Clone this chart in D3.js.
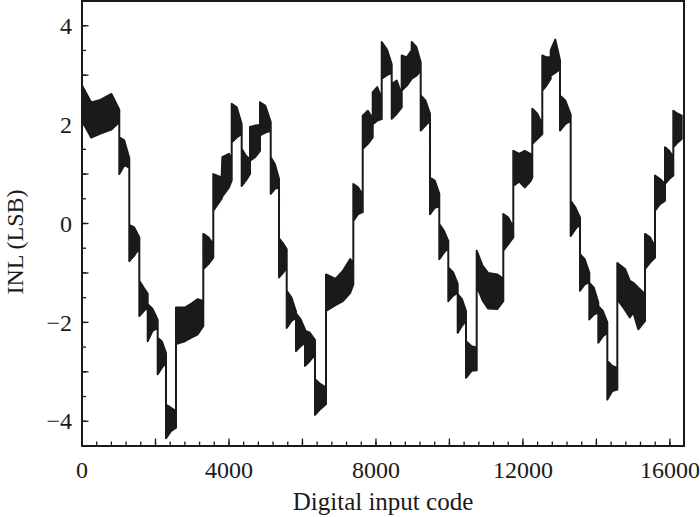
<!DOCTYPE html>
<html><head><meta charset="utf-8">
<script src="https://cdn.jsdelivr.net/npm/d3@7"></script>
<style>
body{margin:0;background:#fff}
svg{display:block}
text{font-family:"Liberation Serif","Times New Roman",serif;fill:#1a1a1a}
</style>
</head><body>
<svg id="chart" width="700" height="517"></svg>
<script>
// INL envelope: [code, lower, upper] (LSB)
const inlPoints = [
 [0,2.08,2.79],[250,1.74,2.45],[500,1.82,2.50],[800,1.90,2.62],[1015,2.05,2.30],
 [1015,1.00,1.74],[1150,1.18,1.68],[1287,1.13,1.32],
 [1287,-0.76,-0.03],[1420,-0.65,-0.08],[1560,-0.49,-0.28],
 [1560,-1.87,-1.16],[1680,-1.77,-1.30],[1788,-1.70,-1.42],
 [1788,-2.38,-1.63],[1920,-2.17,-1.73],[2060,-2.11,-1.95],
 [2060,-3.05,-2.31],[2170,-2.92,-2.38],[2286,-2.80,-2.62],
 [2286,-4.34,-3.66],[2420,-4.20,-3.73],[2558,-4.13,-3.80],
 [2558,-2.44,-1.70],[2800,-2.38,-1.70],[3000,-2.30,-1.61],[3150,-2.24,-1.53],[3301,-2.07,-1.57],
 [3301,-0.92,-0.21],[3440,-0.82,-0.28],[3573,-0.69,-0.42],
 [3573,0.26,1.00],[3800,0.50,0.93],[3820,0.55,1.34],[4000,0.73,1.41],[4074,0.87,1.27],
 [4074,1.64,2.42],[4210,1.74,2.35],[4346,1.81,2.01],
 [4346,0.76,1.51],[4460,0.87,1.37],[4572,1.00,1.30],
 [4572,1.27,1.95],[4710,1.34,1.98],[4844,1.47,1.99],
 [4844,1.78,2.45],[4990,1.84,2.38],[5136,1.88,2.05],
 [5136,0.60,1.34],[5250,0.70,1.20],[5362,0.73,0.90],
 [5362,-1.09,-0.30],[5470,-1.00,-0.40],[5571,-0.89,-0.52],
 [5571,-2.11,-1.36],[5700,-1.97,-1.50],[5824,-1.91,-1.78],
 [5824,-2.58,-1.82],[5950,-2.48,-1.94],[6069,-2.41,-2.14],
 [6069,-2.88,-2.17],[6200,-2.78,-2.21],[6341,-2.65,-2.36],
 [6341,-3.87,-3.15],[6490,-3.75,-3.25],[6641,-3.65,-3.32],
 [6641,-1.77,-1.03],[6900,-1.65,-1.12],[7100,-1.57,-0.96],[7300,-1.40,-0.72],[7384,-1.23,-0.82],
 [7384,0.05,0.80],[7510,0.19,0.73],[7640,0.23,0.58],
 [7640,1.51,2.18],[7780,1.61,2.28],[7912,1.74,2.12],
 [7912,2.01,2.65],[8035,2.08,2.76],[8157,2.11,2.52],
 [8157,2.93,3.67],[8300,3.00,3.52],[8429,3.05,3.22],
 [8429,2.12,2.82],[8565,2.22,2.89],[8701,2.35,2.60],
 [8701,2.69,3.40],[8840,2.79,3.36],[8973,2.93,3.50],
 [8973,2.93,3.67],[9100,2.99,3.57],[9218,3.09,3.26],
 [9218,1.88,2.59],[9345,1.98,2.49],[9471,2.08,2.22],
 [9471,0.19,0.93],[9600,0.32,0.87],[9724,0.35,0.60],
 [9724,-0.72,-0.01],[9850,-0.59,-0.15],[9969,-0.49,-0.35],
 [9969,-1.57,-0.89],[10100,-1.46,-0.99],[10225,-1.40,-1.22],
 [10225,-2.21,-1.43],[10340,-2.07,-1.53],[10451,-1.97,-1.77],
 [10451,-3.12,-2.38],[10600,-2.98,-2.48],[10742,-2.97,-2.51],
 [10742,-1.26,-0.55],[10900,-1.55,-0.85],[11050,-1.72,-1.00],[11300,-1.73,-1.03],[11466,-1.57,-1.12],
 [11466,-0.55,0.19],[11600,-0.42,0.12],[11738,-0.28,-0.08],
 [11738,0.76,1.47],[11900,0.85,1.41],[12050,0.73,1.47],[12200,0.85,1.41],[12255,0.93,1.27],
 [12255,1.61,2.32],[12390,1.71,2.22],[12527,1.81,2.01],
 [12527,2.69,3.40],[12640,2.79,3.36],[12756,2.93,3.36],
 [12756,2.99,3.50],[12880,3.05,3.72],[13009,3.12,3.30],
 [13009,1.88,2.59],[13150,2.01,2.49],[13300,2.08,2.20],
 [13300,-0.25,0.46],[13430,-0.11,0.32],[13554,-0.01,0.12],
 [13554,-1.36,-0.62],[13680,-1.23,-0.72],[13807,-1.19,-1.00],
 [13807,-1.94,-1.20],[13930,-1.84,-1.30],[14052,-1.80,-1.60],
 [14052,-2.41,-1.67],[14175,-2.28,-1.77],[14297,-2.21,-2.00],
 [14297,-3.56,-2.78],[14430,-3.39,-2.88],[14569,-3.36,-2.92],
 [14569,-1.53,-0.80],[14780,-1.75,-0.92],[14910,-1.90,-1.16],[15005,-1.80,-1.20],[15140,-2.14,-1.30],[15323,-1.97,-1.43],
 [15323,-0.92,-0.21],[15460,-0.79,-0.28],[15595,-0.69,-0.47],
 [15595,0.26,0.97],[15730,0.39,0.90],[15867,0.46,0.80],
 [15867,0.80,1.54],[15980,0.90,1.47],[16093,0.97,1.34],
 [16093,1.54,2.28],[16210,1.64,2.22],[16321,1.71,2.18]
];
const xDomain = [0, 16384];
const yDomain = [-4.5, 4.5];
const xLabelTicks = [0, 4000, 8000, 12000, 16000];
const xMajorTicks = [0, 2000, 4000, 6000, 8000, 10000, 12000, 14000, 16000];
const xMinorTicks = d3.range(0, 16384, 400);
const yLabelTicks = [-4, -2, 0, 2, 4];
const yMajorTicks = [-4, -3, -2, -1, 0, 1, 2, 3, 4];
const yMinorTicks = d3.range(-4.5, 4.51, 0.5);
const xTitle = "Digital input code";
const yTitle = "INL (LSB)";

const ink = "#1a1a1a";
const L = 82, R = 684, T = 1, B = 446;
const svg = d3.select("#chart");
const x = d3.scaleLinear().domain(xDomain).range([L, R]);
const y = d3.scaleLinear().domain(yDomain).range([B, T]);

// data band
const area = d3.area().x(d => x(d[0])).y0(d => y(d[1])).y1(d => y(d[2]));
svg.append("path").datum(inlPoints).attr("d", area)
  .attr("fill", ink).attr("stroke", ink).attr("stroke-width", 2).attr("stroke-linejoin", "round");

// ticks (inward)
const g = svg.append("g").attr("stroke", ink).attr("stroke-width", 1.3);
g.selectAll(".xmi").data(xMinorTicks).join("line")
  .attr("x1", d => x(d)).attr("x2", d => x(d)).attr("y1", B).attr("y2", B - 4.5);
g.selectAll(".xma").data(xMajorTicks).join("line")
  .attr("x1", d => x(d)).attr("x2", d => x(d)).attr("y1", B).attr("y2", B - 7.5);
g.selectAll(".ymi").data(yMinorTicks).join("line")
  .attr("y1", d => y(d)).attr("y2", d => y(d)).attr("x1", L).attr("x2", L + 4);
g.selectAll(".yma").data(yMajorTicks).join("line")
  .attr("y1", d => y(d)).attr("y2", d => y(d)).attr("x1", L).attr("x2", L + 6.5);

// frame
svg.append("rect").attr("x", L).attr("y", T).attr("width", R - L).attr("height", B - T)
  .attr("fill", "none").attr("stroke", ink).attr("stroke-width", 2);

// tick labels
const fmt = v => (v < 0 ? "\u2212" + Math.abs(v) : String(v));
svg.selectAll(".xl").data(xLabelTicks).join("text")
  .attr("x", d => x(d)).attr("y", 478).attr("text-anchor", "middle")
  .attr("font-size", 24).text(d => fmt(d));
svg.selectAll(".yl").data(yLabelTicks).join("text")
  .attr("x", 72).attr("y", d => y(d)).attr("dy", "0.34em").attr("text-anchor", "end")
  .attr("font-size", 24).text(d => fmt(d));

// titles
svg.append("text").attr("x", (L + R) / 2).attr("y", 510).attr("text-anchor", "middle")
  .attr("font-size", 25).text(xTitle);
svg.append("text").attr("transform", "translate(23,242) rotate(-90)").attr("text-anchor", "middle")
  .attr("font-size", 24).text(yTitle);
</script>
</body></html>
